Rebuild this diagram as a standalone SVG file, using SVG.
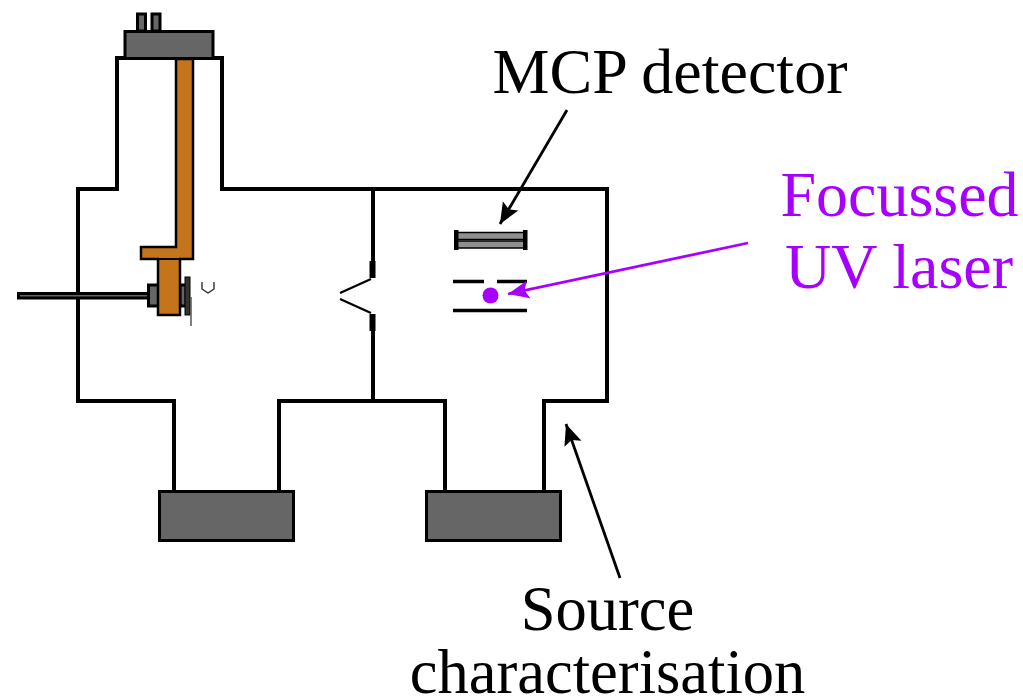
<svg xmlns="http://www.w3.org/2000/svg" width="1023" height="699" viewBox="0 0 1023 699">
<defs>
<marker id="ab" markerUnits="userSpaceOnUse" markerWidth="24" markerHeight="20" refX="21" refY="9" orient="auto"><path d="M0 0 L21 9 L0 18 L4 9Z" fill="#000"/></marker>
<marker id="ap" markerUnits="userSpaceOnUse" markerWidth="24" markerHeight="20" refX="21" refY="9" orient="auto"><path d="M0 0 L21 9 L0 18 L4 9Z" fill="#a800ff"/></marker>
</defs>
<style>
.w{fill:none;stroke:#000;stroke-width:4;stroke-linecap:square}
.g{fill:#666;stroke:#000;stroke-width:3}
.c{fill:#c4751c;stroke:#000;stroke-width:2.500}
.t{font-family:"Liberation Serif","Times New Roman",serif;font-size:64px;text-anchor:middle;fill:#000}
.s{font-size:62.500px}
.p{fill:#a800ff}
</style>
<g id="chamber">
<path class="w" d="M117 58H222V189H607V401H544V491M445 491V401H279V491M174 491V401H78V189H117V58"/>
<path class="w" d="M373 189V262M373 332V401"/>
<path d="M372.500 261V278M372.500 314V331" stroke="#000" stroke-width="6" fill="none"/>
<path d="M371 279L340 293M340 299L371 313" stroke="#000" stroke-width="2.400" fill="none"/>
</g>
<g id="feedthrough-top">
<rect class="g" x="137.500" y="14" width="8" height="17" stroke-width="2.500"/>
<rect class="g" x="152" y="14" width="8" height="17" stroke-width="2.500"/>
<rect class="g" x="125" y="31.500" width="88" height="27" stroke-width="2.500"/>
</g>
<g id="manipulator">
<rect class="g" x="18.500" y="293.500" width="130" height="4.500" stroke-width="2.200"/>
<rect class="g" x="148.500" y="285" width="10" height="21" stroke-width="2.500"/>
<rect class="g" x="180" y="285" width="6" height="21" stroke-width="2.200"/>
<rect x="185" y="277" width="5" height="38" fill="#333" stroke="#000"/>
<path class="c" d="M176 59H193V259H180V315H158V259H141V247H176Z"/>
<path d="M158 259H180" stroke="#000" stroke-width="2"/>
<path d="M191 297V326" stroke="#555" stroke-width="1.500" fill="none"/>
<path d="M202 282V289L208 293L214 289V282" stroke="#222" stroke-width="1.300" fill="none"/>
</g>
<g id="pump-left"><rect class="g" x="159.500" y="491.500" width="134" height="49" stroke-width="4"/></g>
<g id="pump-right"><rect class="g" x="426.500" y="491.500" width="134" height="49" stroke-width="4"/></g>
<g id="mcp">
<rect x="455" y="232.500" width="71" height="7" fill="#909090" stroke="#000" stroke-width="1.500"/>
<rect x="455" y="241" width="71" height="7" fill="#909090" stroke="#000" stroke-width="1.500"/>
<rect x="454" y="230" width="4.500" height="20"/>
<rect x="523" y="230" width="4.500" height="20"/>
</g>
<g id="plates">
<path d="M453 281.500H484M497 281.500H527M453 310.500H527" stroke="#000" stroke-width="3.500" fill="none"/>
<circle class="p" cx="490.500" cy="295.500" r="8"/>
</g>
<g id="connectors">
<path d="M567 110L500 224" stroke="#000" stroke-width="2.800" fill="none" marker-end="url(#ab)"/>
<path d="M620 578L566 424" stroke="#000" stroke-width="2.800" fill="none" marker-end="url(#ab)"/>
<path d="M748 243L508 294" stroke="#a800ff" stroke-width="2.800" fill="none" marker-end="url(#ap)"/>
</g>
<g id="labels">
<text class="t" x="670" y="92.500">MCP detector</text>
<text class="t" x="899.500" y="216" style="fill:#a800ff">Focussed</text>
<text class="t" x="899" y="288" style="fill:#a800ff">UV laser</text>
<text class="t s" x="607.500" y="630">Source</text>
<text class="t s" x="607.500" y="693">characterisation</text>
</g>
</svg>
